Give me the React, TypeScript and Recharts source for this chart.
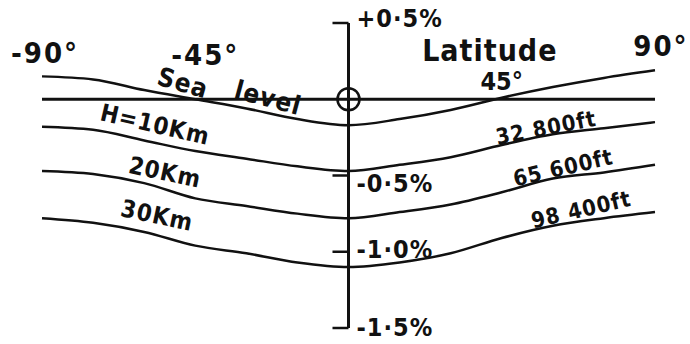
import React from 'react';
import { LineChart, Line, XAxis, YAxis, ReferenceLine, ReferenceDot } from 'recharts';

// latitude (degrees) and change of g in % for each height
const latitudes = [-90, -75, -60, -45, -30, -15, 0, 15, 30, 45, 60, 75, 90];
const seaLevel = [0.15, 0.13, 0.06, 0.0, -0.06, -0.13, -0.17, -0.13, -0.07, 0.01, 0.08, 0.14, 0.19];
const h10km = [-0.18, -0.2, -0.27, -0.34, -0.39, -0.44, -0.47, -0.43, -0.38, -0.3, -0.23, -0.19, -0.15];
const h20km = [-0.47, -0.49, -0.55, -0.65, -0.7, -0.75, -0.78, -0.74, -0.69, -0.61, -0.52, -0.48, -0.43];
const h30km = [-0.78, -0.81, -0.87, -0.96, -1.01, -1.07, -1.1, -1.07, -1.01, -0.91, -0.83, -0.78, -0.74];

const latTicks = [-90, -45, 45, 90];
const latTickText = ['-90°', '-45°', '45°', '90°'];
const pctTicks = [0.5, -0.5, -1.0, -1.5];
const pctTickText = ['+0·5%', '-0·5%', '-1·0%', '-1·5%'];

const rows = latitudes.map((lat, i) => ({
  lat,
  sea: seaLevel[i],
  h10: h10km[i],
  h20: h20km[i],
  h30: h30km[i],
}));

const FONT = "'DejaVu Sans Condensed', 'Liberation Sans Narrow', 'DejaVu Sans', sans-serif";
const INK = '#111';

// hand-placed captions along the curves
const captions = [
  { text: 'Sea', lat: -48.6, v: 0.108, tilt: 16, size: 26 },
  { text: 'level', lat: -23.6, v: 0.01, tilt: 15, size: 26 },
  { text: 'H=10Km', lat: -56.8, v: -0.167, tilt: 13, size: 24 },
  { text: '20Km', lat: -53.9, v: -0.48, tilt: 12, size: 24 },
  { text: '30Km', lat: -56.2, v: -0.763, tilt: 12, size: 24 },
  { text: '32 800ft', lat: 58.0, v: -0.187, tilt: -11, size: 22 },
  { text: '65 600ft', lat: 63.0, v: -0.449, tilt: -13, size: 22 },
  { text: '98 400ft', lat: 68.3, v: -0.724, tilt: -13, size: 22 },
  { text: 'Latitude', lat: 41.5, v: 0.318, tilt: 0, size: 30 },
];

// offsets for the latitude numbers (they sit at different heights)
const latTickShift: Record<number, [number, number]> = {
  [-90]: [3, 48],
  [-45]: [10, 50],
  [45]: [0, 75],
  [90]: [6, 41],
};
const pctTickShift = [-5, 8, -2, -1];

const LatTick = (props: any) => {
  const { x, y, payload } = props;
  const i = latTicks.indexOf(payload.value);
  const [dx, dy] = latTickShift[payload.value] || [0, 0];
  const small = payload.value === 45;
  return (
    <text
      x={x + dx}
      y={y + dy}
      textAnchor="middle"
      fontFamily={FONT}
      fontWeight="bold"
      fontSize={small ? 25 : 29}
      letterSpacing={small ? 0 : 2}
      fill={INK}
    >
      {latTickText[i]}
    </text>
  );
};

const Caption = ({ viewBox, caption }: any) => {
  const cx = viewBox.x + viewBox.width / 2;
  const cy = viewBox.y + viewBox.height / 2;
  return (
    <text
      x={cx}
      y={cy}
      textAnchor="middle"
      dominantBaseline="central"
      transform={`rotate(${caption.tilt} ${cx} ${cy})`}
      fontFamily={FONT}
      fontWeight="bold"
      fontSize={caption.size}
      letterSpacing={1}
      fill={INK}
    >
      {caption.text}
    </text>
  );
};

const PctLabel = ({ viewBox, tickIndex }: any) => (
  <text
    x={viewBox.x + viewBox.width + 8}
    y={viewBox.y + pctTickShift[tickIndex]}
    dominantBaseline="central"
    fontFamily={FONT}
    fontWeight="bold"
    fontSize={25}
    letterSpacing={1}
    fill={INK}
  >
    {pctTickText[tickIndex]}
  </text>
);

export default function App() {
  return (
    <div style={{ position: 'absolute', left: 0, top: 0, width: 690, height: 344, background: '#fff' }}>
      <LineChart width={690} height={344} data={rows} margin={{ top: 0, right: 35, bottom: 16, left: 42 }}>
        <XAxis
          dataKey="lat"
          type="number"
          domain={[-90, 90]}
          orientation="top"
          height={23}
          ticks={latTicks}
          axisLine={false}
          tickLine={false}
          tick={<LatTick />}
        />
        <YAxis type="number" domain={[-1.5, 0.5]} hide />

        <ReferenceLine y={0} stroke={INK} strokeWidth={3} />
        <ReferenceLine
          segment={[{ x: 0, y: 0.5 }, { x: 0, y: -1.5 }]}
          stroke={INK}
          strokeWidth={3}
        />
        {pctTicks.map((v, i) => (
          <ReferenceLine
            key={v}
            segment={[{ x: -4.7, y: v }, { x: 0, y: v }]}
            stroke={INK}
            strokeWidth={2.5}
            label={<PctLabel tickIndex={i} />}
          />
        ))}
        <ReferenceDot x={0} y={0} r={11} fill="none" stroke={INK} strokeWidth={2.5} />

        <Line dataKey="sea" type="monotone" stroke={INK} strokeWidth={2.5} dot={false} isAnimationActive={false} />
        <Line dataKey="h10" type="monotone" stroke={INK} strokeWidth={2.5} dot={false} isAnimationActive={false} />
        <Line dataKey="h20" type="monotone" stroke={INK} strokeWidth={2.5} dot={false} isAnimationActive={false} />
        <Line dataKey="h30" type="monotone" stroke={INK} strokeWidth={2.5} dot={false} isAnimationActive={false} />

        {captions.map((c) => (
          <ReferenceDot
            key={c.text}
            x={c.lat}
            y={c.v}
            r={0}
            fill="none"
            stroke="none"
            ifOverflow="visible"
            label={<Caption caption={c} />}
          />
        ))}
      </LineChart>
    </div>
  );
}
